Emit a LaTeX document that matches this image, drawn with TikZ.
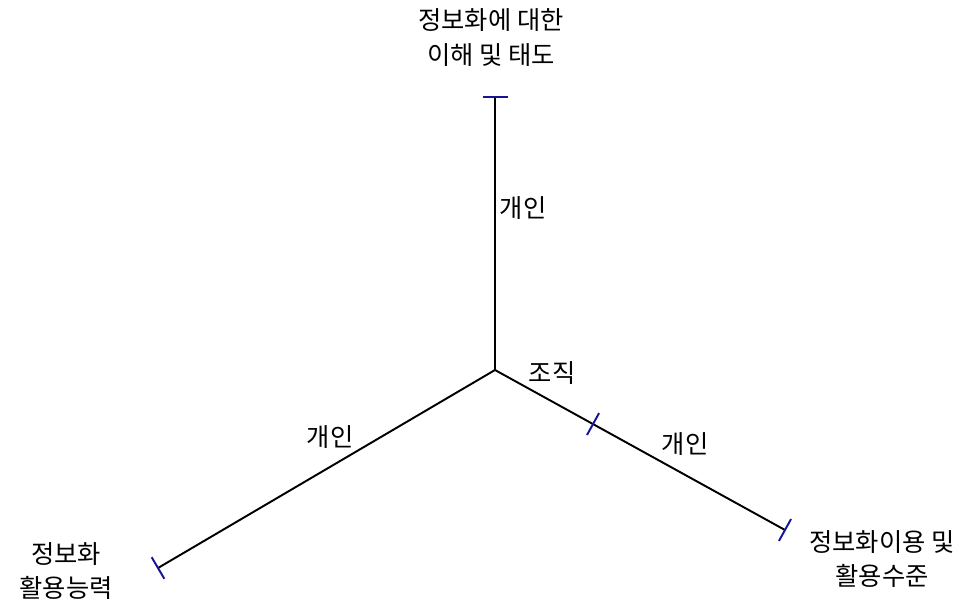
\documentclass[tikz,border=0pt]{standalone}
\usepackage{fontspec}
\newfontfamily\kr{Noto Sans CJK KR}
\usetikzlibrary{calc}
\definecolor{tickblue}{RGB}{20,20,150}
\tikzset{
  axisline/.style={line width=1.1pt},
  tickmark/.style={line width=1.1pt,tickblue},
  lab/.style={font=\kr\fontsize{14.4}{19.8}\selectfont,align=center,inner sep=0pt}
}

\begin{document}
\begin{tikzpicture}
            \useasboundingbox (0,0) rectangle (19.3,12.26);
            \coordinate (o) at (9.9,4.86);
            \coordinate (top) at (9.9,10.32);
            \coordinate (ll) at (3.16,0.9);
            \coordinate (lr) at (15.7,1.66);
            \coordinate (mid) at ($(o)!0.338!(lr)$);

            \draw[axisline] (o)--(top);
            \draw[axisline] (o)--(ll);
            \draw[axisline] (o)--(lr);

            \draw[tickmark] ($(top)!0.25cm!90:(o)$)--($(top)!0.25cm!-90:(o)$);
            \draw[tickmark] ($(ll)!0.25cm!90:(o)$)--($(ll)!0.25cm!-90:(o)$);
            \draw[tickmark] ($(lr)!0.25cm!90:(o)$)--($(lr)!0.25cm!-90:(o)$);
            \draw[tickmark] ($(mid)!0.25cm!90:(o)$)--($(mid)!0.25cm!-90:(o)$);

            \node[lab] (toplab) at (9.82,11.51) {정보화에 대한\\이해 및 태도};
            \node[lab] (llab) at (1.32,0.84) {정보화\\활용능력};
            \node[lab] (lrlab) at (17.64,1.08) {정보화이용 및\\활용수준};
            \node[lab] (ind1) at (10.46,8.1) {개인};
            \node[lab] (org) at (11.04,4.8) {조직};
            \node[lab] (ind2) at (6.6,3.52) {개인};
            \node[lab] (ind3) at (13.7,3.38) {개인};
        \end{tikzpicture}
\end{document}
